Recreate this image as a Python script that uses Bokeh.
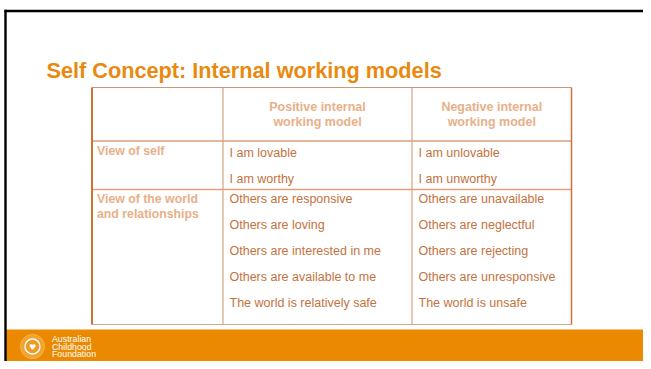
from bokeh.plotting import figure
from bokeh.models import Range1d
from bokeh.core.properties import value
from bokeh.embed import file_html
from bokeh.resources import INLINE

# ---------------- content ----------------
title = "Self Concept: Internal working models"
col_headers = [["Positive internal", "working model"], ["Negative internal", "working model"]]
row_labels = [["View of self"], ["View of the world", "and relationships"]]
self_positive = ["I am lovable", "I am worthy"]
self_negative = ["I am unlovable", "I am unworthy"]
world_positive = ["Others are responsive", "Others are loving", "Others are interested in me",
                  "Others are available to me", "The world is relatively safe"]
world_negative = ["Others are unavailable", "Others are neglectful", "Others are rejecting",
                  "Others are unresponsive", "The world is unsafe"]
logo_lines = ["Australian", "Childhood", "Foundation"]

# ---------------- layout (pixels of the slide) ----------------
W, H = 643, 361
col_edges = [91.5, 222.5, 411.5, 571]
row_edges = [87, 140.5, 189, 324]
FONT = value("Liberation Sans")

ORANGE = "#EB8A00"
TITLE_C = "#E98A10"
HEAD_C = "#E9B088"
BODY_C = "#C4723E"
LINE_C = "#DEA07A"

p = figure(width=W, height=H, x_range=Range1d(0, W), y_range=Range1d(H, 0),
           output_backend="svg", toolbar_location=None, min_border=0,
           x_axis_location=None, y_axis_location=None)
p.grid.visible = False
p.outline_line_color = None
p.background_fill_color = "white"
p.border_fill_color = "white"

# footer band
p.quad(left=[5], right=[W + 2], top=[329], bottom=[H + 2], fill_color=ORANGE, line_color=None)

# slide frame (top and left black lines)
p.quad(left=[4], right=[W + 2], top=[9.3], bottom=[11.7], fill_color="black", line_color=None)
p.quad(left=[3.8], right=[6.2], top=[9.3], bottom=[H + 2], fill_color="black", line_color=None)

# title
p.text(x=[46], y=[70], text=[title], text_font=FONT, text_font_style="bold",
       text_font_size="21.7px", text_color=TITLE_C, text_baseline="alphabetic")

# table grid
top, bot = row_edges[0], row_edges[-1]
p.segment(x0=col_edges[1:3], y0=[top, top], x1=col_edges[1:3], y1=[bot, bot],
          line_color="#D8A282", line_width=1.2)
p.segment(x0=[col_edges[0]] * 2, y0=row_edges[1:3], x1=[col_edges[-1]] * 2, y1=row_edges[1:3],
          line_color=LINE_C, line_width=1.3)
p.segment(x0=[col_edges[0]], y0=[top], x1=[col_edges[-1]], y1=[top], line_color="#C89878", line_width=1.2)
p.segment(x0=[col_edges[0]], y0=[bot], x1=[col_edges[-1]], y1=[bot], line_color="#C8A898", line_width=1.2)
p.segment(x0=[col_edges[0]], y0=[top], x1=[col_edges[0]], y1=[bot], line_color="#CF7238", line_width=2)
p.segment(x0=[col_edges[-1]], y0=[top], x1=[col_edges[-1]], y1=[bot], line_color="#D0703A", line_width=1.5)

# headers
hx, hy, ht = [], [], []
for ci, lines in enumerate(col_headers):
    cx = (col_edges[ci + 1] + col_edges[ci + 2]) / 2
    for li, t in enumerate(lines):
        hx.append(cx); hy.append(106.7 + li * 15); ht.append(t)
p.text(x=hx, y=hy, text=ht, text_font=FONT, text_font_style="bold", text_font_size="12.5px",
       text_color=HEAD_C, text_align="center", text_baseline="middle")

# row labels
lx, ly, lt = [], [], []
for ri, lines in enumerate(row_labels):
    y0 = [150.5, 198.5][ri]
    for li, t in enumerate(lines):
        lx.append(96.5); ly.append(y0 + li * 15); lt.append(t)
p.text(x=lx, y=ly, text=lt, text_font=FONT, text_font_style="bold", text_font_size="12.3px",
       text_color=HEAD_C, text_baseline="middle")

# body cells
bx, by, bt = [], [], []
cells = [(self_positive, world_positive), (self_negative, world_negative)]
for ci, (s_list, w_list) in enumerate(cells):
    x = col_edges[ci + 1] + 6.5
    for i, t in enumerate(s_list):
        bx.append(x); by.append(152.7 + i * 25.3); bt.append(t)
    for i, t in enumerate(w_list):
        bx.append(x); by.append(198.5 + i * 26.1); bt.append(t)
p.text(x=bx, y=by, text=bt, text_font=FONT, text_font_size="12.5px",
       text_color=BODY_C, text_baseline="middle")

# logo (kept inside the visible area)
LX, LY = 32, 346
p.scatter(x=[LX], y=[LY], size=24, marker="circle", fill_color="#F3A93A", fill_alpha=0.8,
          line_color="#F6B54E", line_width=1)
p.scatter(x=[LX], y=[LY], size=15, marker="circle", fill_color="#EF9A20",
          line_color="white", line_width=1.4)
p.text(x=[LX], y=[LY + 0.5], text=["\u2665"], text_font=value("DejaVu Sans"), text_font_size="8px",
       text_color="white", text_align="center", text_baseline="middle")
p.text(x=[51.5] * 3, y=[338.5 + i * 7.6 for i in range(3)], text=logo_lines, text_font=FONT,
       text_font_size="8.8px", text_color="white", text_baseline="middle")

open("out.html", "w").write(file_html(p, INLINE))
